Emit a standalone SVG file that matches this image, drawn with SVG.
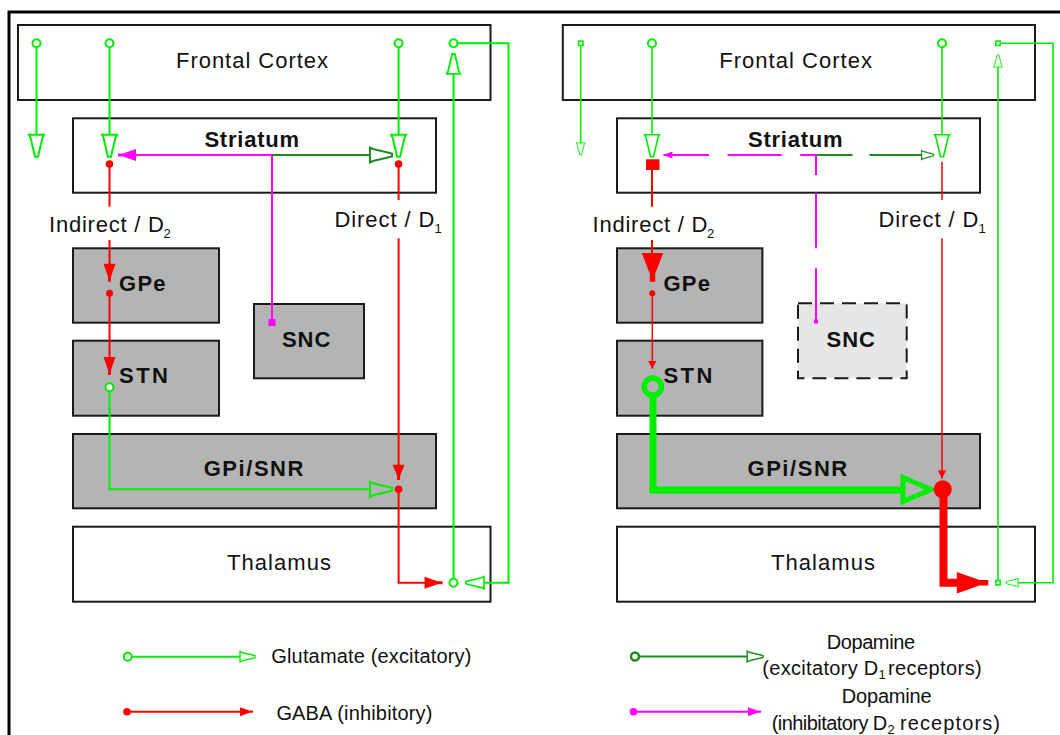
<svg xmlns="http://www.w3.org/2000/svg" xmlns:xlink="http://www.w3.org/1999/xlink" width="1060" height="735" viewBox="0 0 1060 735">
<style>
.box{fill:#ffffff;stroke:#1a1a1a;stroke-width:2}
.gbox{fill:#b4b4b4;stroke:#1a1a1a;stroke-width:2}
.dbox{fill:#e6e6e6;stroke:#1a1a1a;stroke-width:2;stroke-dasharray:14 8}
.t{font-family:"Liberation Sans",Arial,sans-serif;font-size:22px;fill:#111111}
.lg{font-size:20px}
.sub{font-size:13px}
.b{font-weight:bold}
.g{stroke:#00ee00;fill:none;stroke-width:2}
.gt{stroke:#00ee00;fill:none;stroke-width:1.6}
.gk{stroke:#00ee00;fill:none;stroke-width:7}
.r{stroke:#ff0000;fill:none;stroke-width:2}
.rt{stroke:#ff0000;fill:none;stroke-width:1.5}
.rk{stroke:#ff0000;fill:none;stroke-width:8}
.rf{fill:#ff0000;stroke:none}
.m{stroke:#ff00ff;fill:none;stroke-width:2}
.mf{fill:#ff00ff;stroke:none}
.d{stroke:#1b8c1b;fill:none;stroke-width:2}
.gc{fill:#ffffff;stroke:#00ee00;stroke-width:2}
</style>
<defs>
<path id="oa" d="M-7.5,-22 H7.5 L6,-19 L1.5,0 H-1.5 L-6,-19 Z"/>
<path id="fa" d="M-6,-18 H6 L1.5,-5 V0 H-1.5 V-5 Z"/>
</defs>

<path d="M9,735 V12 H1060" fill="none" stroke="#000000" stroke-width="3"/>

<!-- LEFT PANEL NODES -->
<g id="l-cortex"><rect class="box" x="18" y="25" width="472.5" height="75"/><text class="t" x="176" y="68.3" textLength="152" lengthAdjust="spacing">Frontal Cortex</text></g>
<g id="l-striatum"><rect class="box" x="73" y="118.3" width="363" height="74.4"/><text class="t b" x="204.4" y="146.7" textLength="94.6" lengthAdjust="spacing">Striatum</text></g>
<g id="l-gpe"><rect class="gbox" x="73" y="248.3" width="146" height="74.4"/><text class="t b" x="119" y="290.7" textLength="46.6" lengthAdjust="spacing">GPe</text></g>
<g id="l-stn"><rect class="gbox" x="73" y="340.7" width="146" height="75"/><text class="t b" x="119" y="383.3" textLength="49" lengthAdjust="spacing">STN</text></g>
<g id="l-snc"><rect class="gbox" x="254" y="304" width="110" height="74.3"/><text class="t b" x="282" y="346.7" textLength="48.3" lengthAdjust="spacing">SNC</text></g>
<g id="l-gpi"><rect class="gbox" x="73" y="434" width="363" height="74.3"/><text class="t b" x="203.7" y="475.7" textLength="99.7" lengthAdjust="spacing">GPi/SNR</text></g>
<g id="l-thalamus"><rect class="box" x="73" y="526.7" width="417.5" height="75"/><text class="t" x="227" y="570" textLength="104" lengthAdjust="spacing">Thalamus</text></g>

<!-- RIGHT PANEL NODES -->
<g id="r-cortex"><rect class="box" x="562.8" y="25" width="472.2" height="75"/><text class="t" x="719.2" y="68.3" textLength="152.7" lengthAdjust="spacing">Frontal Cortex</text></g>
<g id="r-striatum"><rect class="box" x="617" y="118.3" width="363" height="74.4"/><text class="t b" x="748" y="146.7" textLength="94.6" lengthAdjust="spacing">Striatum</text></g>
<g id="r-gpe"><rect class="gbox" x="617" y="248.3" width="145.4" height="74.4"/><text class="t b" x="663.4" y="290.7" textLength="46.6" lengthAdjust="spacing">GPe</text></g>
<g id="r-stn"><rect class="gbox" x="617" y="340.7" width="145.4" height="75"/><text class="t b" x="663.4" y="383.3" textLength="49" lengthAdjust="spacing">STN</text></g>
<g id="r-snc"><rect class="dbox" x="798" y="303.3" width="108.7" height="75"/><text class="t b" x="826.6" y="346.7" textLength="48.3" lengthAdjust="spacing">SNC</text></g>
<g id="r-gpi"><rect class="gbox" x="617" y="434" width="363" height="74.3"/><text class="t b" x="747.5" y="475.7" textLength="99.7" lengthAdjust="spacing">GPi/SNR</text></g>
<g id="r-thalamus"><rect class="box" x="617" y="526.7" width="418" height="75"/><text class="t" x="771" y="570" textLength="104" lengthAdjust="spacing">Thalamus</text></g>

<!-- CONNECTORS -->
<g id="connectors">
 <!-- left panel: glutamate -->
 <line class="g" x1="36.5" y1="47.3" x2="36.5" y2="134.7"/><circle class="gc" cx="36.5" cy="43.3" r="4"/>
 <use href="#oa" class="g" transform="translate(36.5,156.7)"/>
 <line class="g" x1="109.5" y1="47.3" x2="109.5" y2="134.7"/><circle class="gc" cx="109.5" cy="43.3" r="4"/>
 <use href="#oa" class="g" transform="translate(109.5,156.7)"/>
 <line class="g" x1="398.6" y1="47.3" x2="398.6" y2="134.7"/><circle class="gc" cx="398.6" cy="43.3" r="4"/>
 <use href="#oa" class="g" transform="translate(398.6,156.7)"/>
 <path class="g" d="M457.5,43.3 H508.5 V582.7 H484"/><circle class="gc" cx="453.5" cy="43.3" r="4"/>
 <use href="#oa" class="g" transform="translate(466,582.7) rotate(90) scale(0.82)"/>
 <line class="g" x1="453.5" y1="74" x2="453.5" y2="578.7"/><circle class="gc" cx="453.5" cy="582.7" r="4"/>
 <use href="#oa" class="g" transform="translate(453.5,54) rotate(180) scale(0.9)"/>
 <path class="g" d="M109.5,391.3 V489.3 H370"/><circle class="gc" cx="109.5" cy="387.3" r="4"/>
 <use href="#oa" class="g" transform="translate(392,489.3) rotate(-90)"/>
 <!-- left panel: GABA -->
 <line class="r" x1="109.5" y1="164" x2="109.5" y2="206.7"/><circle class="rf" cx="109.5" cy="164" r="3.8"/>
 <line class="r" x1="109.5" y1="240" x2="109.5" y2="264"/>
 <use href="#fa" class="rf" transform="translate(109.5,281.7)"/>
 <line class="r" x1="109.5" y1="293.3" x2="109.5" y2="358"/><circle class="rf" cx="109.5" cy="293.3" r="3.5"/>
 <use href="#fa" class="rf" transform="translate(109.5,375)"/>
 <line class="r" x1="398.6" y1="164" x2="398.6" y2="200"/><circle class="rf" cx="398.6" cy="164" r="3.8"/>
 <line class="r" x1="398.6" y1="238.3" x2="398.6" y2="465"/>
 <use href="#fa" class="rf" transform="translate(398.6,480) scale(1,0.85)"/>
 <path class="r" d="M398.6,489.3 V582.7 H425"/><circle class="rf" cx="398.6" cy="489.3" r="3.8"/>
 <use href="#fa" class="rf" transform="translate(442.6,582.7) rotate(-90)"/>
 <!-- left panel: dopamine -->
 <path class="m" d="M272,322 V155 H136"/>
 <use href="#fa" class="mf" transform="translate(118,155) rotate(90)"/>
 <rect class="mf" x="268.5" y="319" width="7" height="7"/>
 <line class="d" x1="272" y1="155" x2="370" y2="155"/>
 <use href="#oa" class="d" transform="translate(392,155) rotate(-90)"/>

 <!-- right panel: glutamate -->
 <line class="gt" x1="580.7" y1="45.3" x2="580.7" y2="143.3"/><rect x="578.5" y="41.1" width="4.4" height="4.4" fill="#ffffff" stroke="#00ee00" stroke-width="1.6"/>
 <use href="#oa" class="gt" transform="translate(580.7,155) scale(0.6,0.55)"/>
 <line class="gt" x1="652" y1="47.3" x2="652" y2="134.7"/><circle class="gc" cx="652" cy="43.3" r="4"/>
 <use href="#oa" class="gt" transform="translate(652,156.7)"/>
 <line class="gt" x1="942" y1="47.3" x2="942" y2="134.7"/><circle class="gc" cx="942" cy="43.3" r="4"/>
 <use href="#oa" class="gt" transform="translate(942,156.7)"/>
 <path class="gt" d="M1000.2,43.3 H1053 V582.7 H1018"/><rect x="995.8" y="41.1" width="4.4" height="4.4" fill="#ffffff" stroke="#00ee00" stroke-width="1.6"/>
 <use href="#oa" class="gt" transform="translate(1006,582.7) rotate(90) scale(0.6,0.55)"/>
 <line class="gt" x1="998" y1="66.7" x2="998" y2="580.5"/><rect x="995.8" y="580.5" width="4.4" height="4.4" fill="#ffffff" stroke="#00ee00" stroke-width="1.6"/>
 <use href="#oa" class="gt" transform="translate(998,55) rotate(180) scale(0.6,0.55)"/>
 <path class="gk" d="M653,396 V490 H902"/>
 <circle cx="652.8" cy="386.7" r="8.6" fill="none" stroke="#00ee00" stroke-width="5.5"/>
 <polygon points="903,477.5 931,489.5 903,501.5" fill="none" stroke="#00ee00" stroke-width="5"/>
 <!-- right panel: GABA -->
 <rect class="rf" x="646" y="159.3" width="13.5" height="10.7"/>
 <line class="r" x1="652" y1="170" x2="652" y2="206.7"/>
 <line class="r" x1="652" y1="240" x2="652" y2="255"/>
 <use href="#fa" class="rf" transform="translate(652.5,281.7) scale(1.8,1.6)"/>
 <line class="rt" x1="652.3" y1="293.3" x2="652.3" y2="362"/><circle class="rf" cx="652.3" cy="293.3" r="3"/>
 <use href="#fa" class="rf" transform="translate(652.3,368.5) scale(0.7,0.42)"/>
 <line class="rt" x1="942" y1="161.7" x2="942" y2="200"/>
 <line class="rt" x1="942" y1="238.3" x2="942" y2="471"/>
 <use href="#fa" class="rf" transform="translate(942,478.5) scale(0.7,0.45)"/>
 <path class="rk" d="M943.5,489 V582.7 H958"/>
 <circle class="rf" cx="942.7" cy="489.3" r="9"/>
 <use href="#fa" class="rf" transform="translate(988.3,582.7) rotate(-90) scale(1.8,1.75)"/>
 <!-- right panel: dopamine (reduced) -->
 <path class="m" d="M800.3,155 H816.5 M727.6,155 H781.7 M670,155 H709 M816,155 V175 M816,193.3 V248.3 M816,268.3 V321"/>
 <use href="#fa" class="mf" transform="translate(663.4,155) rotate(90) scale(0.6,0.5)"/>
 <rect class="mf" x="814" y="319.5" width="4" height="4"/>
 <path class="d" d="M816.5,155 H852.6 M869.5,155 H922"/>
 <use href="#oa" class="d" transform="translate(933.7,155) rotate(-90) scale(0.6,0.55)"/>
</g>

<!-- PATHWAY LABELS -->
<g id="l-labels">
 <text class="t" x="49" y="231.7" textLength="115" lengthAdjust="spacing">Indirect / D</text><text class="t sub" x="163.5" y="238">2</text>
 <text class="t" x="334.5" y="226.7" textLength="100" lengthAdjust="spacing">Direct / D</text><text class="t sub" x="434.5" y="233">1</text>
</g>
<g id="r-labels">
 <text class="t" x="592.5" y="231.7" textLength="115" lengthAdjust="spacing">Indirect / D</text><text class="t sub" x="707" y="238">2</text>
 <text class="t" x="878.5" y="226.7" textLength="100" lengthAdjust="spacing">Direct / D</text><text class="t sub" x="978.5" y="233">1</text>
</g>

<!-- LEGEND -->
<g id="legend">
 <line class="g" x1="131.7" y1="656.7" x2="240" y2="656.7"/><circle class="gc" cx="127.7" cy="656.7" r="4"/>
 <use href="#oa" class="g" transform="translate(255,656.7) rotate(-90) scale(0.7,0.68)"/>
 <text class="t lg" x="271.3" y="663.3" textLength="200" lengthAdjust="spacing">Glutamate (excitatory)</text>
 <line class="r" x1="127" y1="711.7" x2="241" y2="711.7"/><circle class="rf" cx="127" cy="711.7" r="3.8"/>
 <use href="#fa" class="rf" transform="translate(253,711.7) rotate(-90) scale(0.75,0.72)"/>
 <text class="t lg" x="276.4" y="720" textLength="156" lengthAdjust="spacing">GABA (inhibitory)</text>

 <line class="d" x1="639" y1="656.5" x2="747" y2="656.5"/><circle cx="635" cy="656.5" r="4" fill="#ffffff" stroke="#1b8c1b" stroke-width="2.5"/>
 <use href="#oa" class="d" transform="translate(763,656.5) rotate(-90) scale(0.7,0.72)"/>
 <text class="t lg" x="826.7" y="649.3" textLength="88.3" lengthAdjust="spacing">Dopamine</text>
 <text class="t lg" x="762.3" y="675" textLength="116" lengthAdjust="spacing">(excitatory D</text><text class="t sub" x="878.5" y="679">1</text>
 <text class="t lg" x="888" y="675" textLength="93.7" lengthAdjust="spacing">receptors)</text>
 <line class="m" x1="633.5" y1="711.7" x2="748" y2="711.7"/><circle class="mf" cx="633.5" cy="711.7" r="3.8"/>
 <use href="#fa" class="mf" transform="translate(761,711.7) rotate(-90) scale(0.75,0.72)"/>
 <text class="t lg" x="841.7" y="702.7" textLength="90" lengthAdjust="spacing">Dopamine</text>
 <text class="t lg" x="771.7" y="730" textLength="115.6" lengthAdjust="spacing">(inhibitatory D</text><text class="t sub" x="887.5" y="734">2</text>
 <text class="t lg" x="900" y="730" textLength="100" lengthAdjust="spacing">receptors)</text>
</g>
</svg>
